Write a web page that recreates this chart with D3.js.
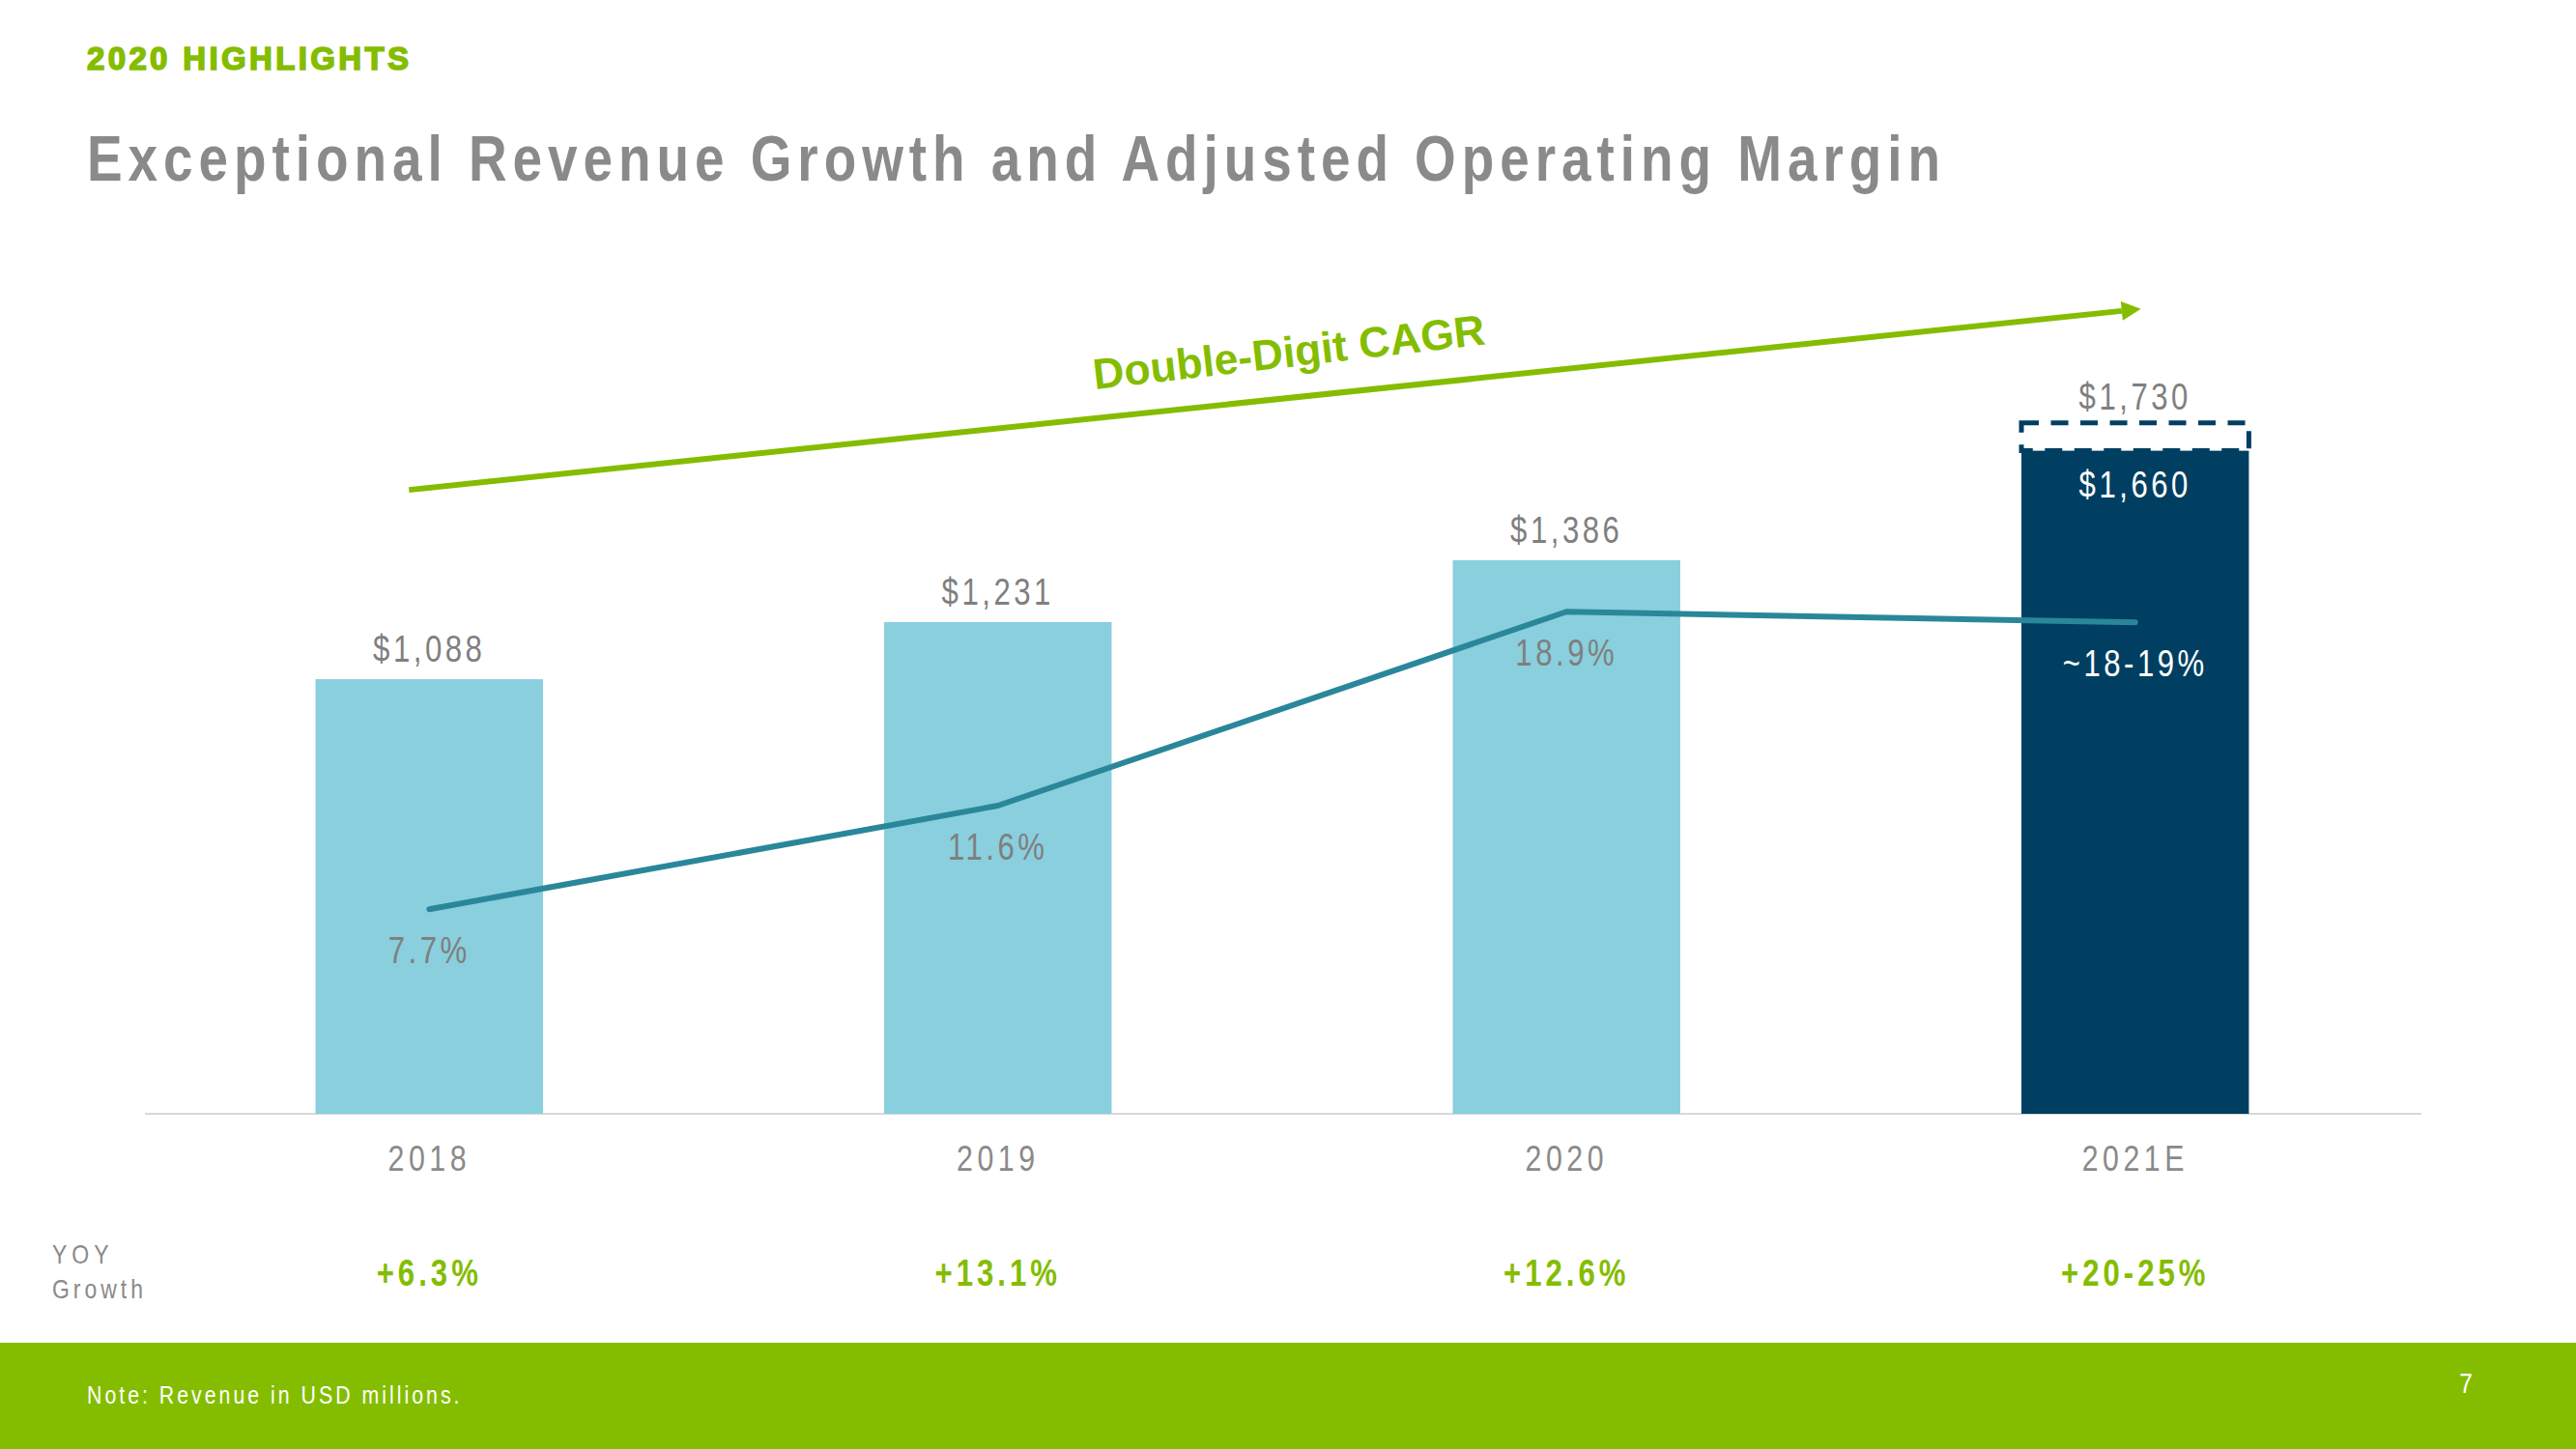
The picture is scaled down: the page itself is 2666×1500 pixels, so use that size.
<!DOCTYPE html>
<html>
<head>
<meta charset="utf-8">
<script src="https://cdn.jsdelivr.net/npm/d3@7"></script>
<style>
  html, body { margin: 0; padding: 0; background: #ffffff; }
  svg { display: block; }
</style>
</head>
<body>
<svg id="chart" width="2666" height="1500"></svg>
<script>
// ---------- data ----------
const categories     = ["2018", "2019", "2020", "2021E"];
const revenue        = [1088, 1231, 1386, 1660];
const revenueLabels  = ["$1,088", "$1,231", "$1,386", "$1,660"];
const isEstimate     = [false, false, false, true];
const revenueHigh    = 1730;           // top of 2021E guidance range
const revenueHighLbl = "$1,730";
const margin         = [7.7, 11.6, 18.9, 18.5];
const marginLabels   = ["7.7%", "11.6%", "18.9%", "~18-19%"];
const yoyGrowth      = ["+6.3%", "+13.1%", "+12.6%", "+20-25%"];
const cagrStart      = 1562;           // arrow start (revenue units)
const cagrEnd        = 2015;           // arrow end (revenue units)

// ---------- styles ----------
const GREEN = "#84BD00", LIGHT = "#89CFDD", DARK = "#003F62",
      TEAL = "#2A879A", GREY = "#7F7F7F", GREY2 = "#8A8A8A";
const SANS = "'Liberation Sans', Arial, sans-serif";
const NARROW_K = 0.82;   // horizontal condensation to mimic a narrow face

const svg = d3.select("#chart");

// narrow text helper: a group condensed horizontally around its anchor
function narrow(parent, x, y, txt, opts) {
  const o = Object.assign({ size: 37, weight: 400, fill: GREY, ls: 0, anchor: "start" }, opts || {});
  const g = parent.append("g").attr("transform", `translate(${x},${y}) scale(${NARROW_K},1)`);
  const t = g.append("text").attr("x", 0).attr("y", 0)
    .attr("text-anchor", o.anchor)
    .attr("font-family", SANS).attr("font-weight", o.weight).attr("font-size", o.size)
    .attr("letter-spacing", o.ls / NARROW_K)
    .attr("fill", o.fill).text(txt);
  if (o.length) t.attr("textLength", o.length / NARROW_K).attr("lengthAdjust", "spacing");
  return t;
}

// ---------- scales ----------
const x = d3.scaleBand().domain(categories).range([150, 2504])
  .paddingInner(0.6).paddingOuter(0.3);
const yRev = d3.scaleLinear().domain([0, 2000]).range([1153, 326]);
const yMar = d3.scaleLinear().domain([0, 30]).range([1153, 328]);
const cx = c => x(c) + x.bandwidth() / 2;

// ---------- header ----------
svg.append("text").attr("x", 90).attr("y", 72)
  .attr("font-family", SANS).attr("font-weight", 900).attr("font-size", 33)
  .attr("fill", GREEN).attr("stroke", GREEN).attr("stroke-width", 1.6)
  .attr("textLength", 333).attr("lengthAdjust", "spacing")
  .text("2020 HIGHLIGHTS");

narrow(svg, 90, 187, "Exceptional Revenue Growth and Adjusted Operating Margin",
  { size: 67, weight: 700, fill: GREY2, length: 1918 });

// ---------- axis baseline ----------
const xAxis = d3.axisBottom(x).tickSize(0).tickPadding(0).tickFormat("");
const axisG = svg.append("g").attr("transform", `translate(0,${yRev(0)})`).call(xAxis);
axisG.select(".domain").attr("stroke", "#D9D9D9").attr("stroke-width", 2)
  .attr("d", `M150,0H2506`);

// category labels
const catG = svg.append("g");
categories.forEach(c => narrow(catG, cx(c), 1212, c,
  { size: 37, fill: GREY2, ls: 4.5, anchor: "middle" }));

// ---------- bars ----------
svg.append("g").selectAll("rect").data(categories).join("rect")
  .attr("x", d => x(d)).attr("width", x.bandwidth())
  .attr("y", (d, i) => yRev(revenue[i]))
  .attr("height", (d, i) => yRev(0) - yRev(revenue[i]))
  .attr("fill", (d, i) => isEstimate[i] ? DARK : LIGHT);

// dashed guidance box on estimate bar
const estIdx = isEstimate.indexOf(true);
const estCat = categories[estIdx];
svg.append("rect")
  .attr("x", x(estCat)).attr("width", x.bandwidth())
  .attr("y", yRev(revenueHigh)).attr("height", yRev(revenue[estIdx]) - yRev(revenueHigh))
  .attr("fill", "none").attr("stroke", DARK).attr("stroke-width", 5)
  .attr("stroke-dasharray", "18 12.5");

// revenue labels
const revG = svg.append("g");
categories.forEach((c, i) => narrow(revG, cx(c),
  isEstimate[i] ? yRev(revenue[i]) + 48 : yRev(revenue[i]) - 18,
  revenueLabels[i],
  { size: 38, fill: isEstimate[i] ? "#FFFFFF" : GREY, ls: 3.5, anchor: "middle" }));
narrow(revG, cx(estCat), yRev(revenueHigh) - 14, revenueHighLbl,
  { size: 38, fill: GREY, ls: 3.5, anchor: "middle" });

// ---------- margin line ----------
const line = d3.line().x((d, i) => cx(categories[i])).y(d => yMar(d));
svg.append("path").datum(margin).attr("d", line)
  .attr("fill", "none").attr("stroke", TEAL).attr("stroke-width", 6)
  .attr("stroke-linecap", "round").attr("stroke-linejoin", "round");

const marG = svg.append("g");
margin.forEach((m, i) => narrow(marG, cx(categories[i]), yMar(m) + 56, marginLabels[i],
  { size: 38, fill: isEstimate[i] ? "#FFFFFF" : GREY, ls: 3.5, anchor: "middle" }));

// ---------- CAGR arrow ----------
const ax1 = cx(categories[0]) - 21, ay1 = yRev(cagrStart);
const ax2 = cx(categories[categories.length - 1]) + 6, ay2 = yRev(cagrEnd);
const ang = Math.atan2(ay2 - ay1, ax2 - ax1);
const headLen = 20, headW = 10;
const bx = ax2 - headLen * Math.cos(ang), by = ay2 - headLen * Math.sin(ang);
svg.append("line").attr("x1", ax1).attr("y1", ay1).attr("x2", bx).attr("y2", by)
  .attr("stroke", GREEN).attr("stroke-width", 6);
svg.append("path")
  .attr("d", `M${ax2},${ay2}L${bx - headW * Math.sin(ang)},${by + headW * Math.cos(ang)}L${bx + headW * Math.sin(ang)},${by - headW * Math.cos(ang)}Z`)
  .attr("fill", GREEN);

svg.append("text")
  .attr("transform", `translate(1133,403) rotate(${ang * 180 / Math.PI - 0.6})`)
  .attr("font-family", SANS).attr("font-weight", 700).attr("font-size", 44.5)
  .attr("fill", GREEN).text("Double-Digit CAGR");

// ---------- YOY growth row ----------
narrow(svg, 54, 1308, "YOY", { size: 28, fill: GREY2, ls: 5 });
narrow(svg, 54, 1344, "Growth", { size: 28, fill: GREY2, ls: 4 });

const yoyG = svg.append("g");
yoyGrowth.forEach((t, i) => narrow(yoyG, cx(categories[i]), 1331, t,
  { size: 38, weight: 700, fill: GREEN, ls: 4, anchor: "middle" }));

// ---------- footer ----------
svg.append("rect").attr("x", 0).attr("y", 1390).attr("width", 2666).attr("height", 110)
  .attr("fill", GREEN);
narrow(svg, 90, 1453, "Note: Revenue in USD millions.", { size: 26, fill: "#FFFFFF", ls: 3 });
narrow(svg, 2552, 1442, "7", { size: 30, fill: "#FFFFFF", anchor: "middle" });
</script>
</body>
</html>
